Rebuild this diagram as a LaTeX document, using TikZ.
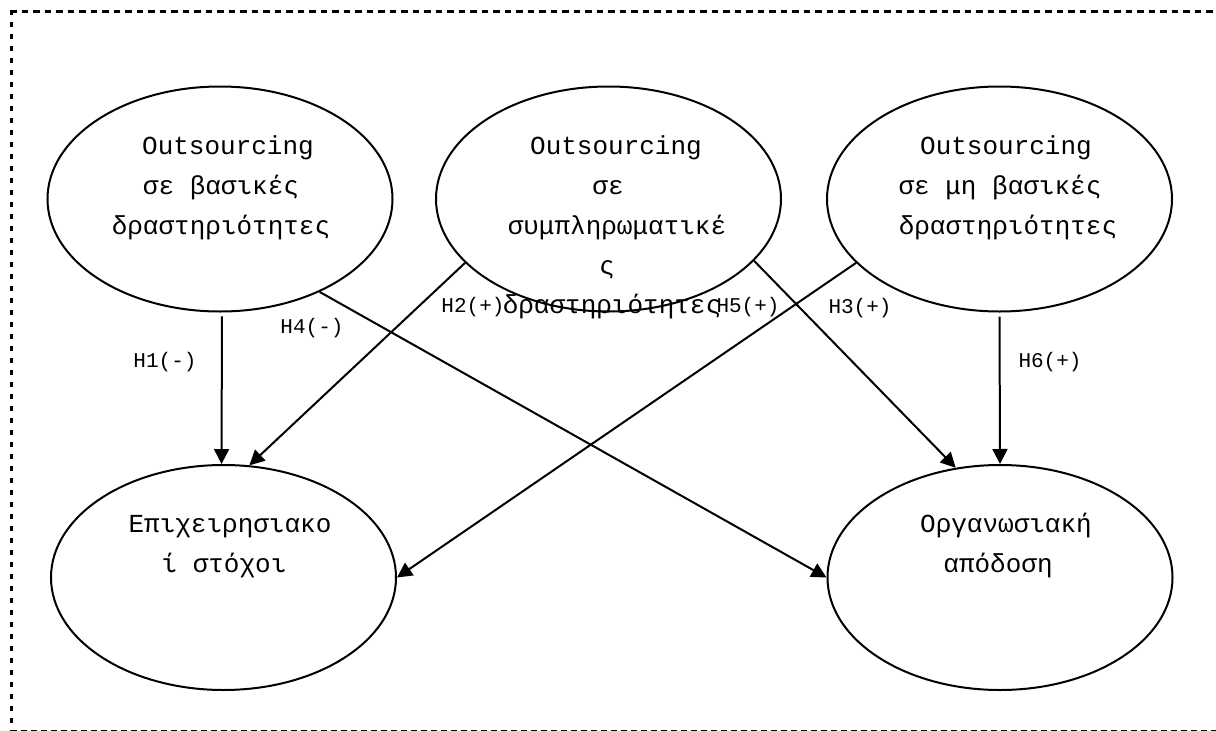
\documentclass[tikz,border=0pt]{standalone}
\usepackage{fontspec}
\setmainfont{Liberation Mono}
\usetikzlibrary{arrows.meta,shapes.geometric}
\tikzset{
  oval/.style={ellipse,draw,line width=2pt,inner sep=0pt,minimum width=345pt,minimum height=225pt},
  txt/.style={anchor=base,inner sep=0pt,font=\fontsize{26}{40}\selectfont},
  hlab/.style={inner sep=0pt,font=\fontsize{21}{25}\selectfont},
  arr/.style={line width=2pt,-{Triangle[length=15pt,width=15pt]}},
}
\begin{document}
\begin{tikzpicture}[x=1pt,y=-1pt]
\useasboundingbox (0,0) rectangle (1216,731);
% frame
\draw[line width=3pt,dash pattern=on 6.5pt off 5pt] (10,11) -- (1216,11);
\draw[line width=3pt,dash pattern=on 4.5pt off 7.5pt] (11,10) -- (11,731);
\draw[line width=1pt,dash pattern=on 6pt off 4pt] (11,730.3) -- (1216,730.3);
% ellipses
\node[oval] (e1) at (220,199) {};
\node[oval] (e2) at (608.5,199) {};
\node[oval] (e3) at (999.5,199) {};
\node[oval] (e4) at (223.5,577.5) {};
\node[oval] (e5) at (1000,577.5) {};
% texts
\node[txt] (t1a) at (228,154) {Outsourcing};
\node[txt] (t1b) at (221,194) {σε βασικές};
\node[txt] (t1c) at (221,234) {δραστηριότητες};
\node[txt] (t2a) at (616,154) {Outsourcing};
\node[txt] (t2b) at (608,194) {σε};
\node[txt] (t2c) at (617,234) {συμπληρωματικέ};
\node[txt] (t2d) at (607,274) {ς};
\node[txt] (t2e) at (612,313) {δραστηριότητες};
\node[txt] (t3a) at (1006,154) {Outsourcing};
\node[txt] (t3b) at (1000,194) {σε μη βασικές};
\node[txt] (t3c) at (1008,234) {δραστηριότητες};
\node[txt] (t4a) at (230,532) {Επιχειρησιακο};
\node[txt] (t4b) at (224,572) {ί στόχοι};
\node[txt] (t5a) at (1006,532) {Οργανωσιακή};
\node[txt] (t5b) at (998,572) {απόδοση};
% connectors
\draw[arr,shorten <=4pt] (e1.-89.5) -- (e4.91.5);
\draw[arr] (e1.-43.2) -- (e5.west);
\draw[arr] (e2.204.2) -- (e4.77.3);
\draw[arr] (e2.-23.1) -- (e5.112.1);
\draw[arr] (e3.204) -- (e4.east);
\draw[arr,shorten <=4pt] (e3.-90) -- (e5.90.5);
% labels
\node[hlab] (h1) at (165,362) {H1(-)};
\node[hlab] (h4) at (312,328) {H4(-)};
\node[hlab] (h2) at (473,307) {H2(+)};
\node[hlab] (h5) at (748,307) {H5(+)};
\node[hlab] (h3) at (860,308) {H3(+)};
\node[hlab] (h6) at (1050,362) {H6(+)};
\end{tikzpicture}
\end{document}
